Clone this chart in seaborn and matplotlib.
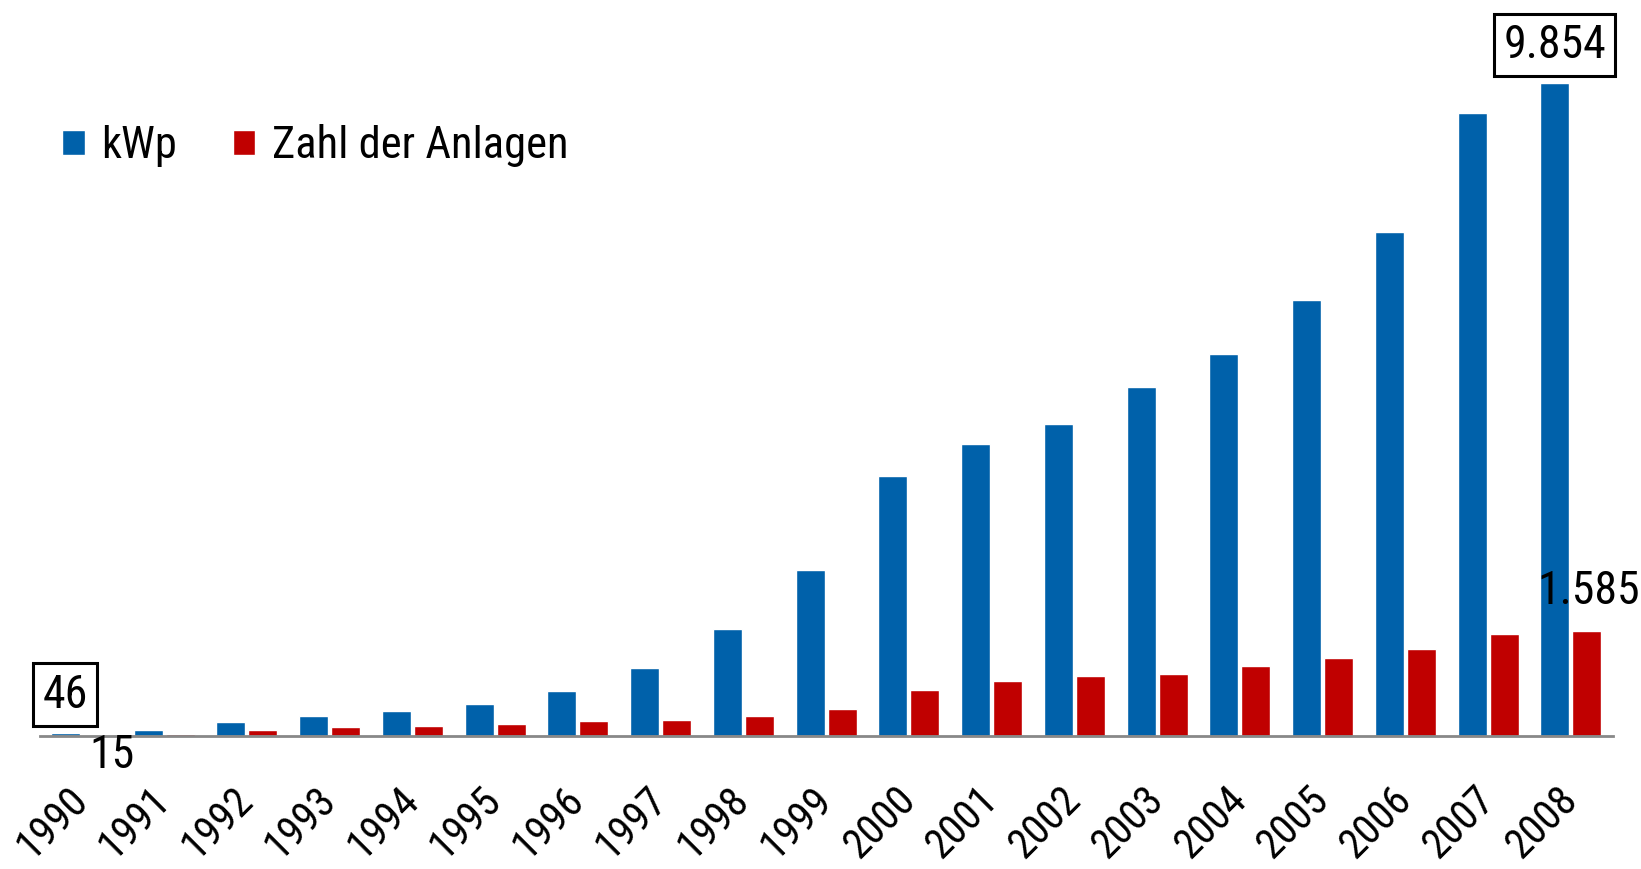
import matplotlib
matplotlib.use("Agg")
import matplotlib.pyplot as plt
import pandas as pd
import seaborn as sns

years = [str(y) for y in range(1990, 2009)]
kwp = [46, 86, 207, 297, 373, 479, 675, 1022, 1611, 2502, 3921, 4405,
       4707, 5265, 5764, 6579, 7606, 9403, 9854]
anlagen = [15, 25, 86, 131, 147, 177, 222, 237, 297, 403, 690, 826,
           901, 932, 1052, 1173, 1309, 1536, 1585]
series_names = ["kWp", "Zahl der Anlagen"]
colors = ["#0061AA", "#C00000"]

sns.set_style("white")
plt.rcParams["font.family"] = ["Liberation Sans Narrow", "Roboto Condensed",
                               "Archivo Narrow", "IBM Plex Sans Condensed",
                               "Liberation Sans"]
plt.rcParams["text.color"] = "black"
plt.rcParams["xtick.color"] = "black"

df = pd.DataFrame({
    "Jahr": years * 2,
    "Wert": kwp + anlagen,
    "Serie": [series_names[0]] * len(years) + [series_names[1]] * len(years),
})

fig = plt.figure(figsize=(16.41, 8.69), dpi=100)
ax = fig.add_axes([40 / 1641, 0.1534, 1573 / 1641, 0.8466])

sns.barplot(data=df, x="Jahr", y="Wert", hue="Serie", palette=colors,
            width=0.775, gap=0.095, saturation=1, ax=ax)

ax.set_xlim(-0.5, 18.51)
ax.set_ylim(0, 11109)
ax.set_xlabel("")
ax.set_ylabel("")
ax.set_yticks([])
for s in ["top", "right", "left"]:
    ax.spines[s].set_visible(False)
ax.spines["bottom"].set_color("#888888")
ax.spines["bottom"].set_linewidth(2)
ax.tick_params(axis="x", length=0, pad=42, labelsize=30)
for lbl in ax.get_xticklabels():
    lbl.set_rotation(45)
    lbl.set_ha("right")
    lbl.set_va("center")
    lbl.set_rotation_mode("anchor")

def fmt(v):
    return f"{v:,}".replace(",", ".")

box = dict(boxstyle="square,pad=0.2", fc="white", ec="black", lw=2.2)
blue_bars = ax.containers[0]
red_bars = ax.containers[1]

def anno(bar, value, dx, dy, boxed):
    x = bar.get_x() + bar.get_width() / 2
    ax.annotate(fmt(value), xy=(x, bar.get_height()), xytext=(dx, dy),
                textcoords="offset pixels", ha="center", va="center",
                fontsize=33, bbox=box if boxed else None)

anno(blue_bars[0], kwp[0], 0, 38, True)
anno(blue_bars[-1], kwp[-1], 0, 38, True)
anno(red_bars[0], anlagen[0], 15, -20, False)
anno(red_bars[-1], anlagen[-1], 2, 40, False)

ax.legend(loc="upper left", bbox_to_anchor=(0.003, 0.855), ncol=2, frameon=False,
          fontsize=32, handlelength=0.5, handleheight=0.5, handletextpad=0.38,
          columnspacing=1.25, borderaxespad=0)

fig.savefig("out.png", dpi=100)
